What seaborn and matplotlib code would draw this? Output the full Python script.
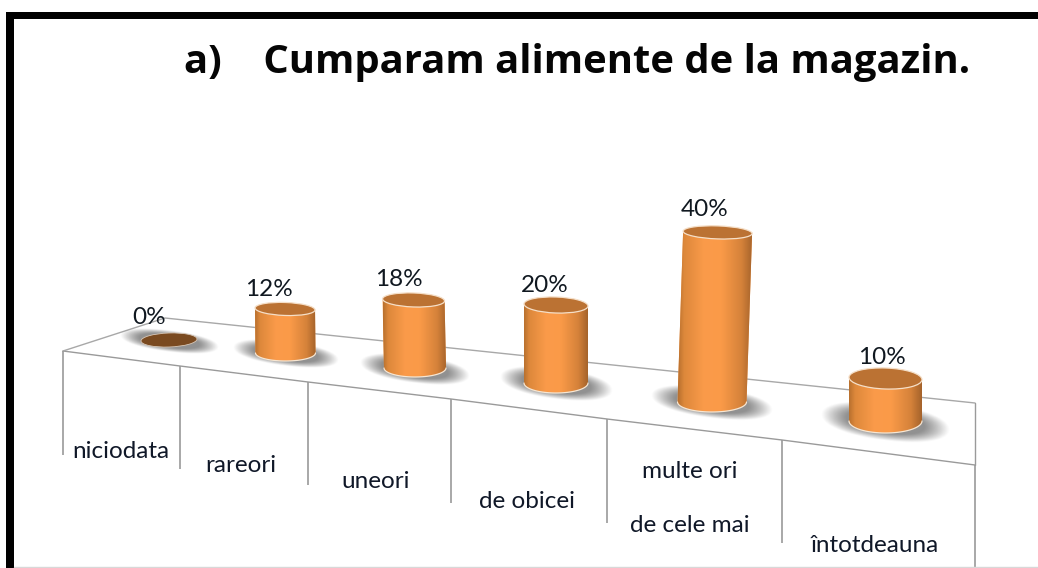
import numpy as np
import matplotlib
matplotlib.use("Agg")
import matplotlib.pyplot as plt
import seaborn as sns
from matplotlib.colors import LinearSegmentedColormap
from matplotlib.patches import Ellipse, Rectangle
from matplotlib.path import Path
from matplotlib.transforms import Affine2D

# --- data ---
categories = ["niciodata", "rareori", "uneori", "de obicei", "multe ori\nde cele mai", "întotdeauna"]
values = [0, 12, 18, 20, 40, 10]
value_labels = ["0%", "12%", "18%", "20%", "40%", "10%"]
title = "a)    Cumparam alimente de la magazin."

# --- perspective layout, in picture pixels ---
centers = [169, 285.5, 415, 556, 712, 885.5]
bases = [340, 353, 368, 383, 402, 421]
widths = [56, 60, 62, 64, 69, 73]
y_scales = [3.6, 3.67, 3.78, 3.9, 4.24, 4.25]
leans = [0, -0.04, -0.08, 0, 0.14, 0]
top_hh = [7, 6.5, 7, 8, 6.5, 10.5]
bot_hh = [7, 8, 9, 10, 10, 12]
value_pos = [(149, 318), (269, 289), (399, 279), (545, 285), (705, 210), (882, 358)]
label_pos = [(121, 452), (241, 465), (376, 482), (527, 502), (690, 498.5), (875, 546)]
front_x = [63, 180, 308, 451, 607, 782, 975]
front_y = [351, 366, 382, 399, 419, 440, 465]
tick_end = [455, 469, 485, 503, 523, 543, 568]

sns.set_theme(style="white")
plt.rcParams["font.family"] = ["Lato", "DejaVu Sans"]

fig = plt.figure(figsize=(10.38, 5.68), dpi=100, facecolor="white")
ax = fig.add_axes([0, 0, 1, 1])

sns.barplot(x=categories, y=values, color="#f79a4a", saturation=1, width=0.8,
            ax=ax, zorder=3, linewidth=0)
bars = list(ax.patches)
ax.set_axis_off()

LINE = "#9a9a9a"
# floor and separators
ax.plot(front_x, front_y, color=LINE, lw=1, zorder=1)
ax.plot([63, 165, 975], [351, 318, 403], color="#a8a8a8", lw=1, zorder=1)
ax.plot([975, 975], [403, 465], color=LINE, lw=1, zorder=1)
ax.vlines(front_x, front_y, tick_end, color=LINE, lw=1.2, zorder=1)

cmap = LinearSegmentedColormap.from_list("cyl", [
    (0.00, "#b9712f"), (0.08, "#dd883b"), (0.35, "#fb9b4a"), (0.58, "#fa9a48"),
    (0.85, "#d5823a"), (1.00, "#a5632b")])
grad = np.linspace(0, 1, 128)[None, :]
shadow_rgb = np.array([0.45, 0.45, 0.45])


def project(i):
    sx = widths[i] / 0.8
    return Affine2D.from_values(sx, 0, leans[i], -y_scales[i],
                                centers[i] - i * sx, bases[i])


for i, bar in enumerate(bars):
    proj = project(i)
    w = widths[i]
    (x0, y0), (x1, _) = proj.transform([(bar.get_x(), 0), (bar.get_x() + bar.get_width(), 0)])
    (tx0, ty), (tx1, _) = proj.transform([(bar.get_x(), values[i]),
                                          (bar.get_x() + bar.get_width(), values[i])])
    bar.set_transform(proj + ax.transData)
    bar.set_visible(values[i] > 0)
    cx = (x0 + x1) / 2
    by = bases[i]

    # soft floor shadow
    sw, sh = 0.88 * w, 1.55 * bot_hh[i]
    xs = np.linspace(cx - sw, cx + sw, 160)
    ys = np.linspace(by - 2.2 * sh, by + 2.2 * sh, 100)
    X, Y = np.meshgrid(xs, ys)
    r = np.abs((X - cx) / sw) ** 2.2 + np.abs((Y - by - 0.12 * (X - cx) - 1) / sh) ** 2.2
    alpha = np.clip(1.5 - 1.5 * r, 0, 1) ** 1.1 * 0.78
    rgba = np.dstack([np.broadcast_to(c, X.shape) for c in shadow_rgb] + [alpha])
    ax.imshow(rgba, extent=(xs[0], xs[-1], ys[-1], ys[0]), aspect="auto",
              zorder=2, interpolation="bilinear")

    if values[i] == 0:
        ax.add_patch(Ellipse((cx, by), w, 2 * top_hh[i], angle=-2, fc="#7a4a20",
                             ec="#d8c8b8", lw=0.6, zorder=4))
        continue

    # cylinder body: bar outline plus the lower half of the base ellipse
    t = np.linspace(np.pi, 0, 48)
    arc_x = cx + (w / 2) * np.cos(t)
    arc_y = by + bot_hh[i] * np.sin(t)
    body = Path(np.vstack([[(tx0, ty)], np.column_stack([arc_x, arc_y]), [(tx1, ty)], [(tx0, ty)]]),
                closed=True)
    im = ax.imshow(grad, extent=(min(x0, tx0), max(x1, tx1), by + bot_hh[i], ty),
                   cmap=cmap, aspect="auto", zorder=3.2, interpolation="bilinear")
    im.set_clip_path(body, ax.transData)
    ax.plot(arc_x, arc_y, color="#f7e6d2", lw=0.9, zorder=3.4)
    ax.add_patch(Ellipse(((tx0 + tx1) / 2, ty), w, 2 * top_hh[i], angle=2, fc="#bb7233",
                         ec="#f5dfc8", lw=0.9, zorder=3.6))

# value labels
for (x, y), s in zip(value_pos, value_labels):
    ax.text(x, y, s, ha="center", va="center", fontsize=17.5, color="#101820", zorder=6)

# category labels
for (x, y), s in zip(label_pos, categories):
    ax.text(x, y, s, ha="center", va="center", fontsize=17.5, color="#101828",
            linespacing=2.95, zorder=6)

ax.text(184, 73, title, ha="left", va="baseline", fontsize=28.8, fontweight="bold",
        family=["Open Sans", "DejaVu Sans"], color="#050505", zorder=6)

# black frame and faint lower rule
ax.add_patch(Rectangle((6, 12), 1040, 7, fc="black", ec="none", zorder=7))
ax.add_patch(Rectangle((6, 12), 8, 560, fc="black", ec="none", zorder=7))
ax.plot([14, 1038], [567, 567], color="#d8d8d8", lw=1, zorder=7)

ax.set_xlim(0, 1038)
ax.set_ylim(568, 0)
fig.savefig("out.png", dpi=100, facecolor="white")
